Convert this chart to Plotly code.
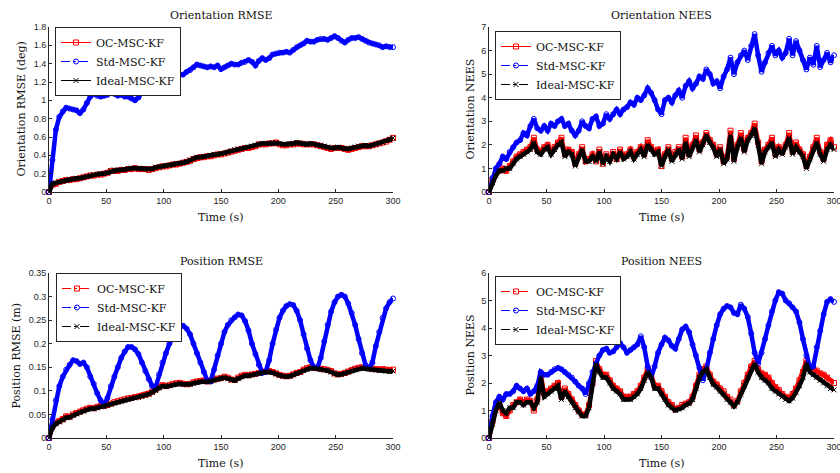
import plotly.graph_objects as go

# time samples (s), one every 3 s
t = list(range(0, 301, 3))

ori_rmse_oc = [
    0.0, 0.08, 0.09, 0.11, 0.12, 0.13, 0.13, 0.14, 0.14, 0.15,
    0.16, 0.17, 0.18, 0.18, 0.19, 0.19, 0.2, 0.21, 0.23, 0.23,
    0.23, 0.24, 0.24, 0.25, 0.25, 0.26, 0.25, 0.25, 0.25, 0.24,
    0.25, 0.26, 0.27, 0.28, 0.28, 0.29, 0.3, 0.3, 0.31, 0.32,
    0.33, 0.34, 0.36, 0.37, 0.38, 0.38, 0.39, 0.39, 0.4, 0.41,
    0.41, 0.42, 0.43, 0.44, 0.45, 0.46, 0.47, 0.48, 0.48, 0.49,
    0.5, 0.52, 0.52, 0.52, 0.53, 0.53, 0.54, 0.52, 0.51, 0.51,
    0.52, 0.52, 0.53, 0.53, 0.52, 0.52, 0.52, 0.52, 0.51, 0.5,
    0.49, 0.48, 0.47, 0.48, 0.48, 0.48, 0.47, 0.46, 0.47, 0.48,
    0.49, 0.5, 0.5, 0.5, 0.51, 0.52, 0.53, 0.54, 0.55, 0.57,
    0.59]
ori_rmse_std = [
    0.0, 0.35, 0.68, 0.82, 0.88, 0.92, 0.91, 0.9, 0.89, 0.86,
    0.9, 0.97, 1.04, 1.07, 1.05, 1.04, 1.05, 1.06, 1.09, 1.07,
    1.05, 1.06, 1.04, 1.04, 1.02, 1.0, 1.03, 1.1, 1.15, 1.17,
    1.17, 1.19, 1.2, 1.21, 1.22, 1.24, 1.25, 1.27, 1.28, 1.28,
    1.31, 1.33, 1.36, 1.39, 1.38, 1.37, 1.36, 1.37, 1.36, 1.38,
    1.34, 1.36, 1.38, 1.4, 1.39, 1.39, 1.41, 1.42, 1.44, 1.42,
    1.38, 1.43, 1.46, 1.44, 1.46, 1.5, 1.51, 1.52, 1.52, 1.53,
    1.52, 1.55, 1.58, 1.6, 1.62, 1.65, 1.64, 1.64, 1.66, 1.67,
    1.67, 1.66, 1.68, 1.7, 1.68, 1.65, 1.63, 1.66, 1.68, 1.68,
    1.69, 1.67, 1.65, 1.63, 1.62, 1.61, 1.6, 1.58, 1.59, 1.58,
    1.58]
ori_rmse_ideal = [
    0.0, 0.09, 0.1, 0.11, 0.12, 0.13, 0.14, 0.14, 0.15, 0.15,
    0.16, 0.17, 0.18, 0.19, 0.19, 0.2, 0.2, 0.21, 0.23, 0.24,
    0.24, 0.24, 0.25, 0.25, 0.26, 0.26, 0.26, 0.25, 0.25, 0.25,
    0.25, 0.27, 0.27, 0.28, 0.29, 0.29, 0.3, 0.31, 0.31, 0.32,
    0.33, 0.35, 0.36, 0.38, 0.38, 0.39, 0.39, 0.4, 0.41, 0.41,
    0.42, 0.42, 0.43, 0.45, 0.46, 0.47, 0.47, 0.48, 0.49, 0.5,
    0.51, 0.52, 0.53, 0.53, 0.53, 0.54, 0.54, 0.53, 0.52, 0.52,
    0.52, 0.53, 0.54, 0.53, 0.53, 0.52, 0.53, 0.52, 0.51, 0.51,
    0.5, 0.49, 0.48, 0.48, 0.49, 0.48, 0.47, 0.47, 0.48, 0.49,
    0.5, 0.5, 0.51, 0.5, 0.51, 0.52, 0.53, 0.54, 0.56, 0.57,
    0.59]

ori_nees_oc = [
    0.0, 0.5, 0.8, 0.9, 1.0, 0.9, 1.1, 1.3, 1.5, 1.6,
    1.7, 1.8, 1.9, 2.3, 1.8, 1.7, 1.9, 2.0, 1.7, 1.9,
    2.1, 2.3, 1.6, 1.8, 1.7, 1.2, 1.6, 1.9, 1.3, 1.4,
    1.6, 1.3, 1.8, 1.2, 1.6, 1.4, 1.7, 1.4, 1.8, 1.5,
    1.6, 1.8, 1.5, 1.7, 1.9, 1.6, 2.2, 1.9, 1.7, 1.8,
    1.1, 1.6, 1.9, 1.4, 1.7, 1.9, 1.5, 2.3, 1.6, 2.0,
    2.4, 1.8, 2.1, 2.5, 2.2, 2.0, 1.6, 1.9, 1.3, 1.5,
    2.6, 1.4, 2.0, 2.5, 1.8, 2.3, 2.5, 2.9, 2.1, 1.3,
    1.8, 2.0, 2.3, 1.6, 1.9, 1.7, 2.0, 2.5, 1.7, 2.1,
    1.8, 1.6, 1.1, 1.5, 1.9, 2.3, 1.7, 1.4, 2.0, 2.2,
    1.9]
ori_nees_std = [
    0.0, 0.6, 1.0, 1.2, 1.5, 1.4, 1.7, 1.9, 2.1, 2.2,
    2.5, 2.4, 2.8, 3.1, 2.7, 2.6, 2.8, 2.6, 2.9, 2.8,
    3.0, 3.1, 2.8, 2.9, 2.6, 2.4, 2.6, 3.0, 2.8, 2.7,
    3.1, 3.2, 2.8, 2.9, 3.3, 3.1, 3.3, 3.5, 3.3, 3.5,
    3.6, 3.8, 3.7, 4.0, 3.9, 4.1, 4.4, 4.2, 3.9, 3.5,
    3.3, 3.9, 4.0, 3.8, 4.1, 4.3, 4.0, 4.5, 4.7, 4.4,
    4.6, 4.9, 4.8, 5.2, 5.0, 4.6, 4.7, 4.4, 4.9, 5.2,
    5.7, 5.0, 5.5, 5.8, 6.0, 5.6, 6.2, 6.7, 5.8, 5.1,
    5.5, 5.9, 6.2, 5.8, 6.0, 5.7, 5.9, 6.5, 5.8, 6.4,
    6.0, 5.6, 5.2, 5.7, 5.4, 6.2, 5.3, 5.6, 5.9, 5.5,
    5.8]
ori_nees_ideal = [
    0.0, 0.4, 0.7, 0.9, 0.9, 1.0, 1.0, 1.2, 1.4, 1.5,
    1.6, 1.7, 1.8, 2.1, 1.7, 1.6, 1.8, 1.9, 1.6, 1.8,
    2.0, 2.1, 1.5, 1.7, 1.6, 1.1, 1.5, 1.8, 1.3, 1.3,
    1.5, 1.3, 1.7, 1.2, 1.5, 1.3, 1.6, 1.4, 1.7, 1.4,
    1.5, 1.7, 1.4, 1.6, 1.8, 1.5, 2.0, 1.8, 1.6, 1.7,
    1.1, 1.5, 1.8, 1.3, 1.6, 1.8, 1.4, 2.1, 1.5, 1.9,
    2.2, 1.7, 2.0, 2.4, 2.1, 1.9, 1.5, 1.8, 1.2, 1.4,
    2.4, 1.3, 1.9, 2.3, 1.7, 2.2, 2.4, 2.7, 2.0, 1.2,
    1.7, 1.9, 2.1, 1.5, 1.8, 1.6, 1.9, 2.3, 1.6, 1.9,
    1.7, 1.5, 1.0, 1.4, 1.8, 2.1, 1.6, 1.3, 1.8, 2.0,
    1.8]

pos_rmse_oc = [
    0.0, 0.025, 0.032, 0.036, 0.04, 0.046, 0.045, 0.05, 0.053, 0.056,
    0.059, 0.062, 0.064, 0.063, 0.066, 0.068, 0.068, 0.07, 0.073, 0.076,
    0.078, 0.08, 0.082, 0.084, 0.085, 0.087, 0.088, 0.09, 0.092, 0.094,
    0.098, 0.103, 0.108, 0.112, 0.11, 0.112, 0.115, 0.116, 0.117, 0.115,
    0.114, 0.115, 0.118, 0.12, 0.121, 0.122, 0.12, 0.122, 0.124, 0.126,
    0.127, 0.13, 0.128, 0.124, 0.123, 0.128, 0.132, 0.134, 0.133, 0.135,
    0.136, 0.138, 0.14, 0.141, 0.142, 0.14, 0.137, 0.134, 0.132, 0.131,
    0.132, 0.135, 0.138, 0.14, 0.145, 0.148, 0.15, 0.149, 0.148, 0.147,
    0.146, 0.144, 0.142, 0.137, 0.135, 0.136, 0.138, 0.141, 0.144, 0.147,
    0.149, 0.15, 0.149, 0.148, 0.147, 0.146, 0.145, 0.146, 0.145, 0.144,
    0.145]
pos_rmse_std = [
    0.0, 0.04, 0.08, 0.11, 0.13, 0.145, 0.155, 0.165, 0.163, 0.157,
    0.16, 0.15, 0.13, 0.115, 0.095, 0.08, 0.07, 0.085, 0.11, 0.13,
    0.15, 0.17, 0.183, 0.193, 0.193, 0.188, 0.178, 0.16, 0.142, 0.125,
    0.11, 0.108, 0.135, 0.16, 0.18, 0.2, 0.215, 0.228, 0.236, 0.238,
    0.232, 0.22, 0.2, 0.18, 0.16, 0.14, 0.122, 0.12, 0.145, 0.175,
    0.2, 0.225, 0.24, 0.25, 0.256, 0.262, 0.26, 0.248, 0.228, 0.2,
    0.178, 0.155, 0.138, 0.14, 0.165, 0.2, 0.23, 0.255, 0.27, 0.28,
    0.284, 0.282, 0.27, 0.25, 0.22, 0.19, 0.165, 0.15, 0.148, 0.17,
    0.205, 0.24, 0.268, 0.288, 0.3, 0.304, 0.3, 0.285, 0.265, 0.24,
    0.21, 0.18, 0.155, 0.148, 0.16, 0.195, 0.225, 0.255, 0.275, 0.288,
    0.296]
pos_rmse_ideal = [
    0.0, 0.022, 0.03, 0.034, 0.038, 0.043, 0.044, 0.048, 0.051, 0.054,
    0.057, 0.06, 0.062, 0.062, 0.064, 0.066, 0.067, 0.069, 0.072, 0.074,
    0.076, 0.078, 0.08, 0.082, 0.084, 0.085, 0.086, 0.088, 0.09, 0.093,
    0.097, 0.101, 0.106, 0.11, 0.109, 0.111, 0.113, 0.115, 0.115, 0.114,
    0.113, 0.114, 0.116, 0.118, 0.12, 0.12, 0.119, 0.121, 0.123, 0.125,
    0.126, 0.128, 0.126, 0.123, 0.122, 0.126, 0.13, 0.132, 0.132, 0.134,
    0.135, 0.137, 0.139, 0.14, 0.14, 0.139, 0.136, 0.133, 0.131, 0.13,
    0.131, 0.134, 0.137, 0.139, 0.143, 0.146, 0.148, 0.148, 0.147, 0.145,
    0.144, 0.143, 0.14, 0.136, 0.134, 0.135, 0.137, 0.14, 0.143, 0.145,
    0.147, 0.148, 0.147, 0.146, 0.145, 0.144, 0.143, 0.143, 0.142, 0.141,
    0.142]

pos_nees_oc = [
    0.0, 0.6, 1.1, 1.2, 0.9, 0.8, 1.0, 1.2, 1.3, 1.4,
    1.3, 1.4, 1.35, 1.0, 1.4, 2.3, 1.6, 1.7, 1.8, 1.9,
    2.0, 1.5, 1.8, 1.6, 1.4, 1.2, 1.0, 0.85, 0.85, 1.2,
    2.0, 2.8, 2.5, 2.3, 2.3, 2.1, 1.9, 1.8, 1.7, 1.5,
    1.5, 1.5, 1.6, 1.7, 1.9, 2.2, 2.5, 2.3, 1.9, 1.9,
    1.7, 1.5, 1.3, 1.2, 1.05, 1.1, 1.2, 1.25, 1.3, 1.5,
    1.9, 2.3, 2.5, 2.6, 2.3, 2.05, 1.95, 1.8, 1.7, 1.5,
    1.4, 1.2, 1.35, 1.7, 2.0, 2.3, 2.6, 2.8, 2.5, 2.35,
    2.3, 2.2, 2.0, 1.85, 1.75, 1.6, 1.5, 1.45, 1.6, 1.8,
    2.1, 2.4, 2.8, 2.6, 2.5, 2.45, 2.35, 2.3, 2.2, 2.05,
    2.0]
pos_nees_std = [
    0.0, 0.8, 1.3, 1.5, 1.4, 1.6, 1.6, 1.7, 1.9, 1.8,
    1.7, 1.8, 1.6, 1.7, 1.9, 2.4, 2.3, 2.3, 2.4, 2.5,
    2.55, 2.5, 2.4, 2.3, 2.2, 2.05, 1.9, 1.8, 1.6, 2.0,
    2.4, 2.7, 3.0, 3.2, 3.25, 3.1, 3.15, 3.3, 3.45, 3.3,
    3.1, 3.2, 3.3, 3.4, 3.7, 3.3, 2.6, 2.2, 2.6, 3.1,
    3.4, 3.65, 3.55, 3.35, 3.25, 3.6, 3.95, 4.05, 3.85, 3.4,
    3.0, 2.55, 2.1, 2.5, 3.1, 3.6, 4.1, 4.5, 4.7, 4.8,
    4.75, 4.55, 4.5, 4.85, 4.7, 4.4, 3.8, 3.1, 2.7, 3.1,
    3.6, 4.1, 4.6, 5.0, 5.3, 5.25, 5.0, 4.9, 4.75, 4.6,
    4.2, 3.6, 3.0, 2.55, 2.6, 3.3, 3.9, 4.5, 4.95, 5.05,
    4.95]
pos_nees_ideal = [
    0.0, 0.5, 1.0, 1.3, 1.0, 0.9, 1.1, 1.1, 1.3, 1.3,
    1.2, 1.3, 1.3, 1.1, 1.3, 2.2, 1.5, 1.6, 1.7, 1.8,
    1.9, 1.4, 1.7, 1.5, 1.3, 1.1, 0.95, 0.8, 0.8, 1.1,
    2.0, 2.7, 2.4, 2.2, 2.2, 2.0, 1.8, 1.7, 1.6, 1.4,
    1.4, 1.4, 1.5, 1.6, 1.8, 2.1, 2.4, 2.2, 1.8, 1.8,
    1.6, 1.4, 1.2, 1.1, 1.0, 1.05, 1.1, 1.2, 1.25, 1.4,
    1.8, 2.2, 2.4, 2.5, 2.2, 1.95, 1.85, 1.7, 1.6, 1.4,
    1.3, 1.15, 1.3, 1.6, 1.9, 2.2, 2.5, 2.7, 2.4, 2.2,
    2.1, 2.0, 1.8, 1.7, 1.6, 1.5, 1.4, 1.35, 1.45, 1.65,
    1.9, 2.2, 2.7, 2.4, 2.3, 2.2, 2.1, 2.0, 1.9, 1.8,
    1.75]

names = ["OC-MSC-KF", "Std-MSC-KF", "Ideal-MSC-KF"]
x_ticks = [0, 50, 100, 150, 200, 250, 300]
ori_rmse_ticks = ["0", "0.2", "0.4", "0.6", "0.8", "1", "1.2", "1.4", "1.6", "1.8"]
ori_nees_ticks = ["0", "1", "2", "3", "4", "5", "6", "7"]
pos_rmse_ticks = ["0", "0.05", "0.1", "0.15", "0.2", "0.25", "0.3", "0.35"]
pos_nees_ticks = ["0", "1", "2", "3", "4", "5", "6"]

W, H = 840, 473
SERIF = "DejaVu Serif"
SANS = "Liberation Sans"
AXC = "#262626"
TXT = "#111111"
colors = ["#ff0000", "#0000ff", "#000000"]
symbols = ["square-open", "circle-open", "x-thin"]


def px_x(v):
    return v / W


def px_y(v):
    return 1 - v / H


# plot boxes in pixels: (left, right, top, bottom)
panels = [
    dict(title="Orientation RMSE", ytitle="Orientation RMSE (deg)",
         data=[ori_rmse_oc, ori_rmse_std, ori_rmse_ideal],
         dash=["solid", "dashdot", "solid"], ticks=ori_rmse_ticks,
         box=(49, 393, 27, 192), ytx=21, leg=(55, 27)),
    dict(title="Orientation NEES", ytitle="Orientation NEES",
         data=[ori_nees_oc, ori_nees_std, ori_nees_ideal],
         dash=["solid", "dashdot", "dashdot"], ticks=ori_nees_ticks,
         box=(489, 834, 27, 192), ytx=470, leg=(495, 31)),
    dict(title="Position RMSE", ytitle="Position RMSE (m)",
         data=[pos_rmse_oc, pos_rmse_std, pos_rmse_ideal],
         dash=["dashdot", "dashdot", "dashdot"], ticks=pos_rmse_ticks,
         box=(49, 393, 273, 438), ytx=16, leg=(56, 273)),
    dict(title="Position NEES", ytitle="Position NEES",
         data=[pos_nees_oc, pos_nees_std, pos_nees_ideal],
         dash=["dashdot", "dashdot", "dashdot"], ticks=pos_nees_ticks,
         box=(489, 834, 273, 438), ytx=470, leg=(495, 276)),
]

fig = go.Figure()
annotations = []
layout = {}

for k, p in enumerate(panels):
    n = "" if k == 0 else str(k + 1)
    legname = "legend" + n
    left, right, top, bottom = p["box"]
    yvals = [float(v) for v in p["ticks"]]

    # thick band of densely packed markers, as in the original figure
    for j in range(3):
        fig.add_trace(go.Scatter(
            x=t, y=p["data"][j], name=names[j], mode="lines+markers",
            xaxis="x" + n, yaxis="y" + n, showlegend=False, cliponaxis=False,
            line=dict(color=colors[j], width=4.5),
            marker=dict(symbol=symbols[j], size=5, color=colors[j],
                        line=dict(color=colors[j], width=1)),
        ))
    # legend samples with the original line styles
    for j in range(3):
        fig.add_trace(go.Scatter(
            x=[None], y=[None], name=names[j], mode="lines+markers",
            xaxis="x" + n, yaxis="y" + n, legend=legname,
            line=dict(color=colors[j], width=1, dash=p["dash"][j]),
            marker=dict(symbol=symbols[j], size=5, color=colors[j],
                        line=dict(color=colors[j], width=1)),
        ))

    layout["xaxis" + n] = dict(
        domain=[px_x(left), px_x(right)], anchor="y" + n, range=[0, 300],
        tickvals=x_ticks, ticks="inside", ticklen=3, tickcolor=AXC,
        showline=True, linecolor=AXC, linewidth=1, showgrid=False,
        zeroline=False, automargin=False, ticklabeloverflow="allow",
        tickfont=dict(family=SANS, size=9, color=AXC),
    )
    layout["yaxis" + n] = dict(
        domain=[px_y(bottom), px_y(top)], anchor="x" + n,
        range=[0, yvals[-1]], tickvals=yvals, ticktext=p["ticks"],
        ticks="inside", ticklen=3, tickcolor=AXC,
        showline=True, linecolor=AXC, linewidth=1, showgrid=False,
        zeroline=False, automargin=False, ticklabeloverflow="allow",
        tickfont=dict(family=SANS, size=9, color=AXC),
    )
    layout[legname] = dict(
        x=px_x(p["leg"][0]), y=px_y(p["leg"][1]), xanchor="left", yanchor="top",
        bgcolor="white", bordercolor=AXC, borderwidth=1,
        font=dict(family=SERIF, size=11, color=TXT),
        tracegroupgap=0, itemwidth=30,
    )

    cx = (left + right) / 2
    annotations.append(dict(
        text=p["title"], x=px_x(cx), y=px_y(top - 12), xref="paper", yref="paper",
        xanchor="center", yanchor="middle", showarrow=False,
        font=dict(family=SERIF, size=11, color=TXT),
    ))
    annotations.append(dict(
        text="Time (s)", x=px_x(cx), y=px_y(bottom + 25), xref="paper", yref="paper",
        xanchor="center", yanchor="middle", showarrow=False,
        font=dict(family=SERIF, size=11, color=TXT),
    ))
    annotations.append(dict(
        text=p["ytitle"], x=px_x(p["ytx"]), y=px_y((top + bottom) / 2),
        xref="paper", yref="paper", textangle=-90,
        xanchor="center", yanchor="middle", showarrow=False,
        font=dict(family=SERIF, size=11, color=TXT),
    ))

fig.update_layout(
    width=W, height=H, autosize=False,
    margin=dict(l=0, r=0, t=0, b=0, autoexpand=False),
    paper_bgcolor="white", plot_bgcolor="white",
    annotations=annotations,
    **layout,
)

# drop the browser's default page margin so the figure sits at the corner
fig.write_html("out.html", config={"displayModeBar": False},
               post_script="document.body.style.margin='0';")
